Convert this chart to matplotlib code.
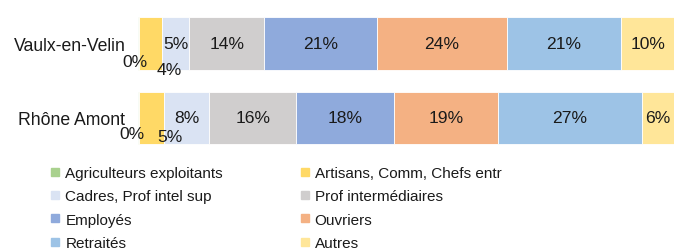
import matplotlib
matplotlib.use("Agg")
import matplotlib.pyplot as plt
from matplotlib.lines import Line2D
import numpy as np

plt.rcParams['font.family'] = ['Liberation Sans', 'DejaVu Sans']

places = ["Vaulx-en-Velin", "Rhône Amont"]
categories = ["Agriculteurs exploitants", "Artisans, Comm, Chefs entr",
              "Cadres, Prof intel sup", "Prof intermédiaires",
              "Employés", "Ouvriers", "Retraités", "Autres"]
vaulx = [0.1, 4.3, 5.2, 14.0, 20.9, 24.3, 21.4, 9.8]
rhone = [0.1, 4.7, 8.5, 16.2, 18.3, 19.4, 26.8, 6.0]
labels_vaulx = ["0%", "4%", "5%", "14%", "21%", "24%", "21%", "10%"]
labels_rhone = ["0%", "5%", "8%", "16%", "18%", "19%", "27%", "6%"]
colors = ["#A9D18E", "#FFD966", "#DAE3F3", "#D0CECE",
          "#8FAADC", "#F4B183", "#9DC3E6", "#FFE699"]

# pixel offsets for the small, displaced labels: (row, category) -> (dx, dy)
small_offsets = {(0, 0): (-3.5, -18.5), (0, 1): (19.5, -26.5),
                 (1, 0): (-6, -16), (1, 1): (18.5, -19)}

fig = plt.figure(figsize=(6.82, 2.51), dpi=100)
ax = fig.add_axes([138/682, 1-156.25/251, 536/682, 149/251])

data = np.array([vaulx, rhone])
labs = [labels_vaulx, labels_rhone]
ypos = np.arange(len(places))
left = np.zeros(len(places))
fs = 12.6
tc = "#1a1a1a"
for j, cat in enumerate(categories):
    vals = data[:, j]
    ax.barh(ypos, vals, left=left, height=0.71, color=colors[j],
            edgecolor="white", linewidth=0.6, label=cat)
    for i in range(len(places)):
        cx = left[i] + vals[i] / 2
        if (i, j) in small_offsets:
            ax.annotate(labs[i][j], (cx, ypos[i]), xytext=small_offsets[(i, j)],
                        textcoords="offset pixels", ha="center", va="center",
                        fontsize=fs, color=tc)
        else:
            ax.text(cx, ypos[i], labs[i][j], ha="center", va="center",
                    fontsize=fs, color=tc)
    left = left + vals

ax.set_xlim(0, 100)
ax.set_ylim(1.5, -0.5)
ax.set_yticks(ypos)
ax.set_yticklabels(places, fontsize=12.7, color=tc)
ax.tick_params(axis="y", length=0, pad=9)
ax.set_xticks([])
for s in ax.spines.values():
    s.set_visible(False)

order = [0, 2, 4, 6, 1, 3, 5, 7]
handles = [Line2D([], [], marker="s", linestyle="none", markersize=5.5,
                  markerfacecolor=colors[k], markeredgecolor=colors[k])
           for k in order]
leg = fig.legend(handles, [categories[k] for k in order], ncol=2,
                 loc="upper left", bbox_to_anchor=(50/682, 1-167/251),
                 frameon=False, handlelength=0.7,
                 prop={"size": 11},
                 handletextpad=0.3, labelspacing=0.61, columnspacing=5.0,
                 borderaxespad=0, borderpad=0)
for t in leg.get_texts():
    t.set_color(tc)

fig.savefig("out.png", dpi=100)
